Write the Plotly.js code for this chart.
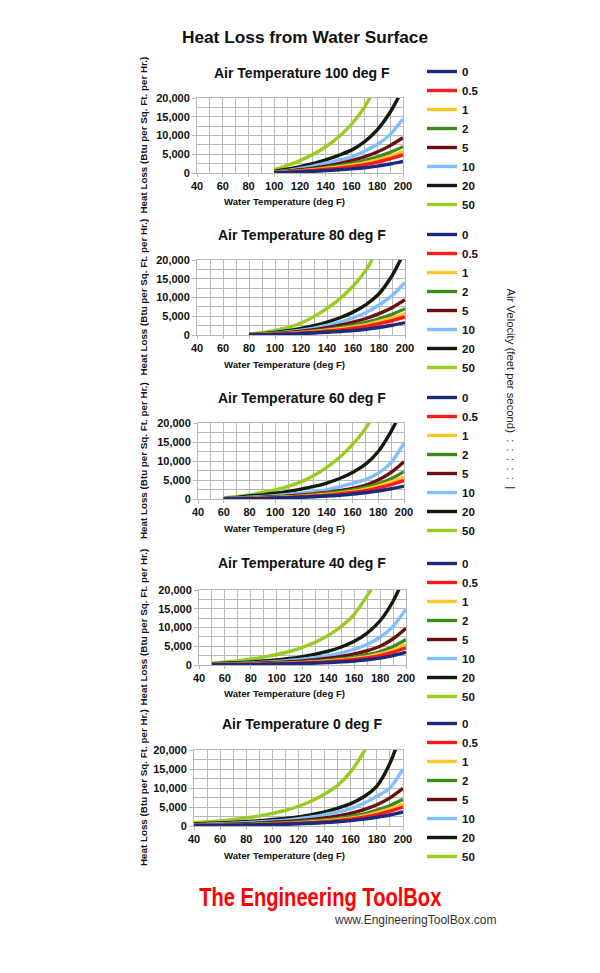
<!DOCTYPE html>
<html><head><meta charset="utf-8">
<script src="https://cdn.plot.ly/plotly-3.0.1.min.js"></script>
<style>html,body{margin:0;padding:0;background:#fff}#chart{width:600px;height:973px}</style>
</head><body><div id="chart"></div><script>
// ---- data ----
const velocityLabels = ['0', '0.5', '1', '2', '5', '10', '20', '50'];

const water_air100 = [100,110,120,130,140,150,160,170,180,190,200];
const heat_air100 = [
  [50,150,300,450,650,850,1100,1400,1850,2400,3100],
  [80,220,450,700,1000,1300,1700,2200,2900,3800,4800],
  [100,270,550,850,1200,1600,2100,2700,3500,4500,5700],
  [130,330,650,1000,1450,1950,2550,3300,4300,5500,7000],
  [180,450,850,1300,1850,2500,3300,4300,5600,7300,9400],
  [280,650,1200,1850,2600,3400,4300,5800,7600,10300,14400],
  [450,1000,1700,2500,3500,4700,6100,8300,11500,16200,22500],
  [900,2000,3300,4900,7000,9600,13000,17500,24000,null,null]
];

const water_air80 = [80,90,100,110,120,130,140,150,160,170,180,190,200];
const heat_air80 = [
  [0,50,120,230,370,530,720,950,1200,1550,2000,2600,3300],
  [20,100,200,350,550,780,1050,1380,1800,2300,3000,3800,4800],
  [30,120,250,420,650,920,1250,1650,2150,2750,3600,4500,5700],
  [40,150,300,500,780,1100,1500,2000,2600,3350,4300,5500,7000],
  [60,200,400,650,1000,1420,1950,2600,3400,4400,5700,7300,9400],
  [90,250,500,850,1300,1850,2550,3400,4600,6000,8000,10500,14000],
  [130,350,700,1150,1750,2500,3450,4600,6100,8100,11000,15800,22500],
  [250,600,1200,2000,3200,4900,7100,9700,13000,17300,23500,null,null]
];

const water_air60 = [60,70,80,90,100,110,120,130,140,150,160,170,180,190,200];
const heat_air60 = [
  [0,30,80,150,250,330,450,600,800,1000,1300,1650,2100,2700,3400],
  [10,60,130,210,300,430,600,800,1000,1300,1700,2200,2900,3800,4900],
  [20,80,160,260,400,530,700,950,1200,1550,2000,2600,3400,4500,5800],
  [30,100,200,320,500,650,900,1150,1500,1900,2400,3100,4000,5300,7200],
  [40,150,300,450,600,800,1050,1350,1700,2200,2800,3600,5000,7000,9800],
  [80,250,450,650,900,1200,1500,1900,2400,3200,4100,5100,6800,9600,14700],
  [100,400,800,1100,1500,2000,2600,3300,4200,5400,7000,9100,12500,17800,24500],
  [300,650,1100,1700,2400,3300,4500,6200,8300,11000,14300,18500,24000,null,null]
];

const water_air40 = [50,60,70,80,90,100,110,120,130,140,150,160,170,180,190,200];
const heat_air40 = [
  [40,60,90,130,180,240,310,400,510,650,830,1070,1400,1850,2500,3400],
  [60,90,130,180,240,320,410,530,680,880,1130,1450,1900,2500,3400,4600],
  [80,120,160,220,290,380,490,640,820,1050,1350,1750,2250,2950,4000,5500],
  [100,150,200,270,360,470,600,780,1000,1300,1650,2100,2750,3600,4900,6800],
  [150,220,300,400,520,680,870,1100,1400,1800,2300,2950,3800,5000,7000,9800],
  [200,300,400,550,750,950,1200,1550,1950,2500,3200,4200,5500,7400,10300,14900],
  [300,450,600,800,1050,1350,1750,2250,2900,3700,4800,6300,8500,11800,17000,24500],
  [500,800,1100,1600,2100,2800,3600,4700,6100,7900,10300,13500,18500,24000,null,null]
];

const water_air0 = [40,50,60,70,80,90,100,110,120,130,140,150,160,170,180,190,200];
const heat_air0 = [
  [100,130,160,200,250,310,380,470,580,720,900,1120,1400,1800,2300,2900,3700],
  [130,160,200,250,310,390,480,590,730,900,1120,1420,1780,2300,3000,3900,5000],
  [150,190,230,290,360,450,560,690,850,1050,1300,1650,2050,2650,3500,4500,5700],
  [180,220,280,350,440,560,700,850,1050,1300,1600,2000,2500,3200,4200,5400,7000],
  [250,320,400,500,620,780,980,1180,1420,1750,2150,2650,3300,4300,5600,7400,9900],
  [350,450,600,750,900,1100,1300,1550,1900,2400,3000,3700,4600,6000,7800,10000,15000],
  [550,650,800,950,1150,1400,1700,2000,2400,3000,3700,4700,5900,7700,10500,16500,26000],
  [900,1100,1300,1650,2100,2650,3300,4100,5200,6600,8400,10700,14300,19500,26000,null,null]
];

const panelTitles = ['Air Temperature 100 deg F','Air Temperature 80 deg F','Air Temperature 60 deg F','Air Temperature 40 deg F','Air Temperature 0 deg F'];

// ---- styles / layout ----
const lineColors = ['#1b2a7a','#ff1a1a','#ffc629','#3f8a1e','#6b1010','#80bfff','#121a0c','#99cc1f'];
const W = 600, H = 973;
const px = v => v / W, py = v => 1 - v / H;
const FONT = 'Liberation Sans, Arial, sans-serif';
const NB = '\u00a0\u00a0';

const panels = [
  {water: water_air100, heat: heat_air100, box: [197,403,98,173],  titleY: 73,  xtY: 201, legTop: 57},
  {water: water_air80,  heat: heat_air80,  box: [197,405,260,335], titleY: 235, xtY: 365, legTop: 220},
  {water: water_air60,  heat: heat_air60,  box: [198,404,423,499], titleY: 398, xtY: 528, legTop: 383},
  {water: water_air40,  heat: heat_air40,  box: [199,406,590,665], titleY: 563, xtY: 693, legTop: 549},
  {water: water_air0,   heat: heat_air0,   box: [194,403,750,826], titleY: 724, xtY: 855, legTop: 709}
];

const traces = [];
const annotations = [];
const layout = {
  width: W, height: H,
  margin: {l: 0, r: 0, t: 0, b: 0},
  paper_bgcolor: '#fff', plot_bgcolor: '#fff',
  font: {family: FONT, color: '#111'},
  title: {text: 'Heat Loss from Water Surface', x: px(305), xanchor: 'center', y: py(37), yanchor: 'middle',
          font: {family: FONT, size: 17.3, weight: 'bold', color: '#111'}},
  showlegend: true,
  annotations: annotations
};

panels.forEach((p, i) => {
  const n = i === 0 ? '' : String(i + 1);
  const xa = 'x' + n, ya = 'y' + n, lg = 'legend' + n;
  const b = p.box;
  for (let k = velocityLabels.length - 1; k >= 0; k--) {
    traces.push({
      type: 'scatter', mode: 'lines', x: p.water, y: p.heat[k],
      name: velocityLabels[k], xaxis: xa, yaxis: ya, legend: lg,
      line: {color: lineColors[k], width: 3.4, shape: 'spline', smoothing: 0.8},
      connectgaps: false, hoverinfo: 'x+y+name'
    });
  }
  const gridc = '#b8b8b8';
  layout['xaxis' + n] = {
    domain: [px(b[0]), px(b[1])], anchor: ya, range: [40, 200], tick0: 0, dtick: 20,
    showgrid: true, gridcolor: gridc, gridwidth: 1, zeroline: false,
    showline: true, linecolor: gridc, linewidth: 1, mirror: true,
    ticks: 'outside', ticklen: 3, tickcolor: gridc,
    minor: {dtick: 10, showgrid: true, gridcolor: gridc, gridwidth: 1},
    tickfont: {family: FONT, size: 11, weight: 'bold', color: '#111'}, fixedrange: true
  };
  layout['yaxis' + n] = {
    domain: [py(b[3]), py(b[2])], anchor: xa, range: [0, 20000], tick0: 0, dtick: 5000,
    tickformat: ',d', showgrid: true, gridcolor: gridc, gridwidth: 1, zeroline: false,
    showline: true, linecolor: gridc, linewidth: 1, mirror: true,
    ticks: 'outside', ticklen: 4, tickcolor: gridc,
    minor: {dtick: 2500, showgrid: true, gridcolor: gridc, gridwidth: 1},
    tickfont: {family: FONT, size: 11, weight: 'bold', color: '#111'}, fixedrange: true
  };
  layout[lg] = {
    x: px(422), xanchor: 'left', y: py(p.legTop), yanchor: 'top',
    traceorder: 'reversed', bgcolor: 'rgba(0,0,0,0)', borderwidth: 0,
    font: {family: FONT, size: 11.5, weight: 'bold', color: '#111'},
    itemwidth: 30, tracegroupgap: 0
  };
  annotations.push({
    text: panelTitles[i], xref: 'paper', yref: 'paper', x: px(302), y: py(p.titleY),
    xanchor: 'center', yanchor: 'middle', showarrow: false,
    font: {family: FONT, size: 14, weight: 'bold', color: '#111'}
  });
  annotations.push({
    text: 'Water Temperature (deg F)', xref: 'paper', yref: 'paper', x: px(284), y: py(p.xtY),
    xanchor: 'center', yanchor: 'middle', showarrow: false,
    font: {family: FONT, size: 9.6, weight: 'bold', color: '#111'}
  });
  annotations.push({
    text: 'Heat Loss (Btu per Sq. Ft. per Hr.)', xref: 'paper', yref: 'paper', x: px(143), y: py((b[2] + b[3]) / 2),
    xanchor: 'center', yanchor: 'middle', showarrow: false, textangle: -90,
    font: {family: FONT, size: 9.8, weight: 'bold', color: '#111'}
  });
});

annotations.push({
  text: 'Air Velocity (feet per second)' + NB + ':' + NB + ':' + NB + ':' + NB + ':' + NB + ':' + NB + '|',
  xref: 'paper', yref: 'paper', x: px(511), y: py(286),
  xanchor: 'center', yanchor: 'top', showarrow: false, textangle: 90,
  font: {family: FONT, size: 11.3, color: '#222'}
});
annotations.push({
  text: 'The Engineering ToolBox', xref: 'paper', yref: 'paper', x: px(197), y: py(897),
  xanchor: 'left', yanchor: 'middle', showarrow: false,
  font: {family: FONT, size: 26.5, weight: 'bold', color: '#ff0000'}
});
annotations.push({
  text: 'www.EngineeringToolBox.com', xref: 'paper', yref: 'paper', x: px(332), y: py(920),
  xanchor: 'left', yanchor: 'middle', showarrow: false,
  font: {family: FONT, size: 12, color: '#333'}
});

Plotly.newPlot('chart', traces, layout, {staticPlot: true, displayModeBar: false}).then(gd => {
  // condense the logo text horizontally to mimic the narrow logo typeface
  gd.querySelectorAll('.annotation-text').forEach(t => {
    if (t.textContent === 'The Engineering ToolBox') {
      t.style.transformBox = 'fill-box';
      t.style.transformOrigin = '0% 50%';
      t.style.transform = 'scaleX(0.76)';
    }
  });
});
</script></body></html>
